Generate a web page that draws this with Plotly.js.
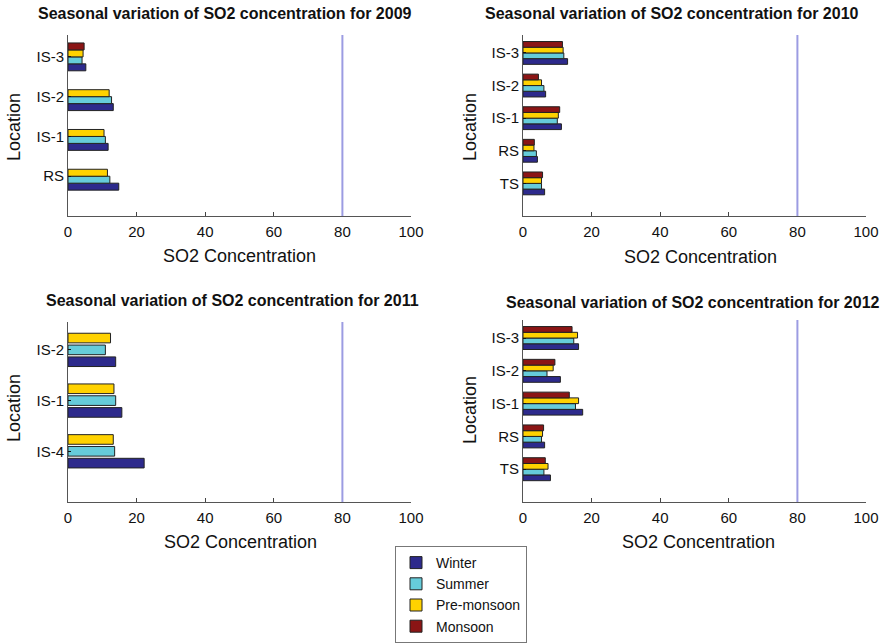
<!DOCTYPE html>
<html>
<head>
<meta charset="utf-8">
<script src="https://cdn.plot.ly/plotly-3.0.1.min.js"></script>
<style>html,body{margin:0;padding:0;background:#fff;}#chart{width:884px;height:644px;}</style>
</head>
<body>
<div id="chart"></div>
<script>
// ---- Data ----
const seasons = ['Winter', 'Summer', 'Pre-monsoon', 'Monsoon'];
const seasonColors = ['#2D2A8C', '#66CCDA', '#FFD200', '#8B1515'];

const years = ['2009', '2010', '2011', '2012'];

const categories2009 = ['RS', 'IS-1', 'IS-2', 'IS-3'];
const winter2009  = [14.8, 11.7, 13.2, 5.2];
const summer2009  = [12.2, 10.9, 12.7, 4.1];
const pre2009     = [11.5, 10.5, 12.0, 4.4];
const monsoon2009 = [null, null, null, 4.7];

const categories2010 = ['TS', 'RS', 'IS-1', 'IS-2', 'IS-3'];
const winter2010  = [6.3, 4.2, 11.2, 6.6, 13.0];
const summer2010  = [5.4, 3.9, 10.0, 6.1, 11.9];
const pre2010     = [5.4, 3.2, 10.3, 5.4, 11.7];
const monsoon2010 = [5.7, 3.3, 10.7, 4.5, 11.5];

const categories2011 = ['IS-4', 'IS-1', 'IS-2'];
const winter2011  = [22.2, 15.7, 13.9];
const summer2011  = [13.6, 13.9, 10.9];
const pre2011     = [13.2, 13.4, 12.4];

const categories2012 = ['TS', 'RS', 'IS-1', 'IS-2', 'IS-3'];
const winter2012  = [8.0, 6.3, 17.4, 10.9, 16.2];
const summer2012  = [6.1, 5.4, 15.3, 7.0, 14.8];
const pre2012     = [7.3, 5.7, 16.2, 8.8, 15.9];
const monsoon2012 = [6.5, 6.0, 13.5, 9.3, 14.3];

const xTicks = [0, 20, 40, 60, 80, 100];
const limitValue = 80;

const panelData = [
  {cats: categories2009, series: [winter2009, summer2009, pre2009, monsoon2009]},
  {cats: categories2010, series: [winter2010, summer2010, pre2010, monsoon2010]},
  {cats: categories2011, series: [winter2011, summer2011, pre2011], barWidth: 0.19},
  {cats: categories2012, series: [winter2012, summer2012, pre2012, monsoon2012]}
];

// ---- Layout geometry (pixels in the 884x644 canvas) ----
const W = 884, H = 644;
const panelBoxes = [
  {x0: 68,  x1: 411, top: 35,  bottom: 216},
  {x0: 523, x1: 866, top: 35,  bottom: 216},
  {x0: 68,  x1: 411, top: 322, bottom: 502},
  {x0: 523, x1: 866, top: 320, bottom: 502}
];
const titlePos  = [[225, 14], [672, 14], [232, 300], [693, 302]];
const xTitlePos = [[240, 256], [700, 257], [241, 542], [698, 542]];
const yTitlePos = [[14, 127], [470, 127], [14, 408], [470, 410]];

const FONT = 'Liberation Sans, Arial, sans-serif';
const traces = [];
const layout = {
  width: W, height: H,
  margin: {l: 0, r: 0, t: 0, b: 0},
  paper_bgcolor: '#fff', plot_bgcolor: '#fff',
  barmode: 'group', bargap: 0.3, bargroupgap: 0,
  font: {family: FONT, color: '#111'},
  showlegend: true,
  legend: {
    x: 395 / W, y: 1 / H, xanchor: 'left', yanchor: 'bottom',
    bgcolor: '#fff', bordercolor: '#777', borderwidth: 1,
    font: {family: FONT, size: 14, color: '#111'},
    traceorder: 'normal', tracegroupgap: 0, itemwidth: 30
  },
  annotations: [], shapes: []
};

panelData.forEach((p, i) => {
  const k = i === 0 ? '' : String(i + 1);
  const xa = 'x' + k, ya = 'y' + k;
  p.series.forEach((vals, s) => {
    const tr = {
      type: 'bar', orientation: 'h',
      name: seasons[s], legendgroup: seasons[s],
      showlegend: i === 1,
      x: vals, y: p.cats,
      xaxis: xa, yaxis: ya,
      marker: {color: seasonColors[s], line: {color: '#222', width: 1}},
      hoverinfo: 'x+y+name'
    };
    if (p.barWidth) tr.width = p.barWidth;
    traces.push(tr);
  });
  const b = panelBoxes[i];
  const n = p.cats.length;
  layout['xaxis' + k] = {
    domain: [b.x0 / W, b.x1 / W], anchor: ya,
    range: [0, 100], tickvals: xTicks, ticks: 'inside', ticklen: 4,
    tickcolor: '#444', showline: true, linecolor: '#555', linewidth: 1,
    showgrid: false, zeroline: false, fixedrange: true, ticklabelstandoff: 2,
    tickfont: {family: FONT, size: 15, color: '#111'}
  };
  layout['yaxis' + k] = {
    domain: [1 - b.bottom / H, 1 - b.top / H], anchor: xa,
    type: 'category', categoryarray: p.cats, categoryorder: 'array',
    range: [-1, n - 0.45], ticks: 'inside', ticklen: 3, tickcolor: '#111',
    showline: true, linecolor: '#555', linewidth: 1,
    showgrid: false, zeroline: false, fixedrange: true,
    tickfont: {family: FONT, size: 15, color: '#111'}
  };
  layout.shapes.push({
    type: 'line', xref: xa, yref: ya + ' domain',
    x0: limitValue, x1: limitValue, y0: 0, y1: 1,
    line: {color: '#9C9CE2', width: 2}
  });
  layout.annotations.push({
    text: '<b>Seasonal variation of SO2 concentration for ' + years[i] + '</b>',
    xref: 'paper', yref: 'paper', x: titlePos[i][0] / W, y: 1 - titlePos[i][1] / H,
    xanchor: 'center', yanchor: 'middle', showarrow: false,
    font: {family: FONT, size: 16, color: '#111'}
  });
  layout.annotations.push({
    text: 'SO2 Concentration',
    xref: 'paper', yref: 'paper', x: xTitlePos[i][0] / W, y: 1 - xTitlePos[i][1] / H,
    xanchor: 'center', yanchor: 'middle', showarrow: false,
    font: {family: FONT, size: 18, color: '#111'}
  });
  layout.annotations.push({
    text: 'Location', textangle: -90,
    xref: 'paper', yref: 'paper', x: yTitlePos[i][0] / W, y: 1 - yTitlePos[i][1] / H,
    xanchor: 'center', yanchor: 'middle', showarrow: false,
    font: {family: FONT, size: 18, color: '#111'}
  });
});

Plotly.newPlot('chart', traces, layout, {displayModeBar: false, staticPlot: true});
</script>
</body>
</html>
